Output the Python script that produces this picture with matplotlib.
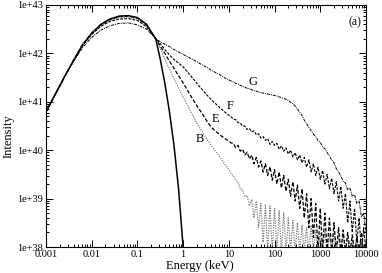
import numpy as np
import matplotlib
matplotlib.use("Agg")
import matplotlib.pyplot as plt
from matplotlib.ticker import FuncFormatter, LogLocator, NullFormatter

plt.rcParams['font.family'] = ['Liberation Serif', 'DejaVu Serif']

# log10(energy / keV) grid: coarse rise, mid section, noisy tail
log_e_low = [-3.0, -2.8, -2.6, -2.4, -2.2, -2.0, -1.8, -1.6, -1.4, -1.2, -1.0, -0.8, -0.6]
log_e_mid = [-0.5, -0.4, -0.3, -0.2, -0.1, 0.0, 0.1, 0.2, 0.3, 0.4, 0.5, 0.6, 0.7, 0.8, 0.9, 1.0]
log_e_tail = [1.05, 1.10, 1.15, 1.20, 1.25, 1.30, 1.35, 1.40, 1.45, 1.50,
              1.55, 1.60, 1.65, 1.70, 1.75, 1.80, 1.85, 1.90, 1.95, 2.00,
              2.05, 2.10, 2.15, 2.20, 2.25, 2.30, 2.35, 2.40, 2.45, 2.50,
              2.55, 2.60, 2.65, 2.70, 2.75, 2.80, 2.85, 2.90, 2.95, 3.00,
              3.05, 3.10, 3.15, 3.20, 3.25, 3.30, 3.35, 3.40, 3.45, 3.50,
              3.55, 3.60, 3.65, 3.70, 3.75, 3.80, 3.85, 3.90, 3.95, 4.00]

# log10(intensity) per curve
solid_int = [40.79, 41.15, 41.51, 41.85, 42.18, 42.42, 42.60, 42.71, 42.77, 42.78, 42.74, 42.60, 42.30,
             41.88, 41.38, 40.80, 40.10, 39.20, 38.00, 36.50]

b_int = [40.79, 41.15, 41.51, 41.85, 42.17, 42.41, 42.58, 42.68, 42.74, 42.75, 42.71, 42.57, 42.30,
         42.10, 41.88, 41.68, 41.48, 41.28, 41.10, 40.92, 40.74, 40.56, 40.40, 40.26, 40.12, 39.99, 39.86, 39.73, 39.60,
         39.52, 39.46, 39.38, 39.34, 39.20, 39.18, 39.04, 39.06, 38.85, 38.98,
         38.60, 38.95, 38.40, 38.90, 38.10, 38.88, 37.90, 38.85, 37.90, 38.80,
         37.90, 38.75, 37.90, 38.70, 37.90, 38.60, 37.90, 38.55, 37.90, 38.50,
         37.90, 38.45, 37.90, 38.40, 37.90, 38.45, 37.90, 38.35, 37.90, 38.30,
         37.90, 38.30, 37.90, 38.25, 37.90, 38.30, 37.90, 38.20, 37.90, 38.25,
         37.90, 38.20, 37.90, 38.15, 37.90, 38.20, 37.90, 38.10, 37.90, 38.15]

e_int = [40.79, 41.15, 41.51, 41.85, 42.18, 42.41, 42.59, 42.70, 42.76, 42.77, 42.73, 42.59, 42.30,
         42.15, 42.00, 41.84, 41.69, 41.54, 41.39, 41.23, 41.07, 40.92, 40.78, 40.63, 40.49, 40.40, 40.32, 40.25, 40.19,
         40.15, 40.14, 40.05, 40.10, 39.98, 40.02, 39.90, 39.96, 39.82, 39.90,
         39.72, 39.85, 39.65, 39.78, 39.55, 39.72, 39.48, 39.66, 39.38, 39.60,
         39.30, 39.55, 39.22, 39.48, 39.15, 39.40, 39.05, 39.35, 38.95, 39.28,
         38.80, 39.20, 38.60, 39.10, 38.40, 39.00, 38.20, 38.90, 37.90, 38.80,
         37.90, 38.70, 37.90, 38.60, 37.90, 38.50, 37.90, 38.40, 37.90, 38.35,
         37.90, 38.30, 37.90, 38.25, 37.90, 38.20, 37.90, 38.30, 37.90, 38.10]

f_int = [40.79, 41.15, 41.51, 41.84, 42.16, 42.39, 42.56, 42.66, 42.71, 42.72, 42.68, 42.55, 42.30,
         42.20, 42.08, 41.97, 41.87, 41.80, 41.72, 41.61, 41.50, 41.38, 41.27, 41.16, 41.06, 40.97, 40.88, 40.80, 40.72,
         40.69, 40.64, 40.63, 40.57, 40.56, 40.50, 40.50, 40.43, 40.45, 40.38,
         40.40, 40.32, 40.34, 40.25, 40.28, 40.20, 40.24, 40.12, 40.18, 40.10,
         40.14, 40.02, 40.09, 39.98, 40.05, 39.92, 40.00, 39.86, 39.95, 39.80,
         39.90, 39.74, 39.85, 39.65, 39.80, 39.55, 39.72, 39.48, 39.65, 39.40,
         39.58, 39.30, 39.50, 39.20, 39.42, 39.10, 39.35, 38.95, 39.25, 38.80,
         39.10, 38.50, 38.95, 38.30, 38.80, 38.10, 38.60, 37.90, 38.40, 37.90]

g_int = [40.79, 41.15, 41.50, 41.83, 42.12, 42.33, 42.48, 42.57, 42.62, 42.63, 42.59, 42.50, 42.31,
         42.24, 42.19, 42.14, 42.08, 42.03, 41.98, 41.93, 41.88, 41.83, 41.77, 41.72, 41.66, 41.61, 41.56, 41.50, 41.45,
         41.43, 41.41, 41.38, 41.37, 41.34, 41.32, 41.30, 41.28, 41.27, 41.25,
         41.23, 41.22, 41.20, 41.19, 41.18, 41.17, 41.16, 41.15, 41.14, 41.13,
         41.12, 41.10, 41.09, 41.07, 41.05, 41.03, 40.99, 40.96, 40.91, 40.85,
         40.78, 40.72, 40.62, 40.55, 40.47, 40.40, 40.33, 40.28, 40.20, 40.16,
         40.08, 40.03, 39.95, 39.88, 39.80, 39.74, 39.62, 39.55, 39.47, 39.36,
         39.32, 39.18, 39.22, 39.05, 39.08, 38.90, 38.95, 38.62, 38.70, 38.30]

energy = 10 ** np.array(log_e_low + log_e_mid + log_e_tail)

fig = plt.figure(figsize=(3.82, 2.73), dpi=100)
ax = fig.add_axes([0.1204, 0.0952, 0.8377, 0.8865])

ax.plot(energy[:len(solid_int)], 10 ** np.array(solid_int), color='black', lw=1.1, ls='-')
ax.plot(energy, 10 ** np.array(b_int), color='#808080', lw=0.9, ls=(0, (1, 1)))
ax.plot(energy, 10 ** np.array(e_int), color='black', lw=0.9, ls=(0, (3, 1.5)))
ax.plot(energy, 10 ** np.array(f_int), color='black', lw=0.8, ls=(0, (2.5, 1.2)))
ax.plot(energy, 10 ** np.array(g_int), color='black', lw=0.7, ls=(0, (3, 1, 1, 1)))

ax.set_xscale('log')
ax.set_yscale('log')
ax.set_xlim(1e-3, 1e4)
ax.set_ylim(1e38, 1e43)

ax.xaxis.set_major_locator(LogLocator(base=10, numticks=20))
ax.xaxis.set_minor_locator(LogLocator(base=10, subs=np.arange(2, 10), numticks=20))
ax.yaxis.set_major_locator(LogLocator(base=10, numticks=20))
ax.yaxis.set_minor_locator(LogLocator(base=10, subs=np.arange(2, 10), numticks=20))
ax.xaxis.set_major_formatter(FuncFormatter(lambda v, p: '%g' % v))
ax.yaxis.set_major_formatter(FuncFormatter(lambda v, p: '1e+%d' % int(round(np.log10(v)))))
ax.xaxis.set_minor_formatter(NullFormatter())
ax.yaxis.set_minor_formatter(NullFormatter())

ax.tick_params(which='both', direction='in', top=True, right=True, labelsize=7.5, width=0.7)
ax.tick_params(which='major', length=5, pad=2)
ax.tick_params(which='minor', length=2.5)
for s in ax.spines.values():
    s.set_linewidth(0.8)

ax.set_xlabel('Energy (keV)', fontsize=9, labelpad=0)
ax.xaxis.set_label_coords(0.48, -0.055)
ax.set_ylabel('Intensity', fontsize=9)
ax.yaxis.set_label_coords(-0.098, 0.46)

ax.text(34, 2.6e41, 'G', fontsize=9, ha='center', va='center')
ax.text(10.7, 8.1e40, 'F', fontsize=9, ha='center', va='center')
ax.text(5.0, 4.4e40, 'E', fontsize=9, ha='center', va='center')
ax.text(2.34, 1.7e40, 'B', fontsize=9, ha='center', va='center')
ax.text(0.966, 0.93, '(a)', fontsize=8.5, ha='center', va='center', transform=ax.transAxes)

fig.savefig('out.png', dpi=100)
